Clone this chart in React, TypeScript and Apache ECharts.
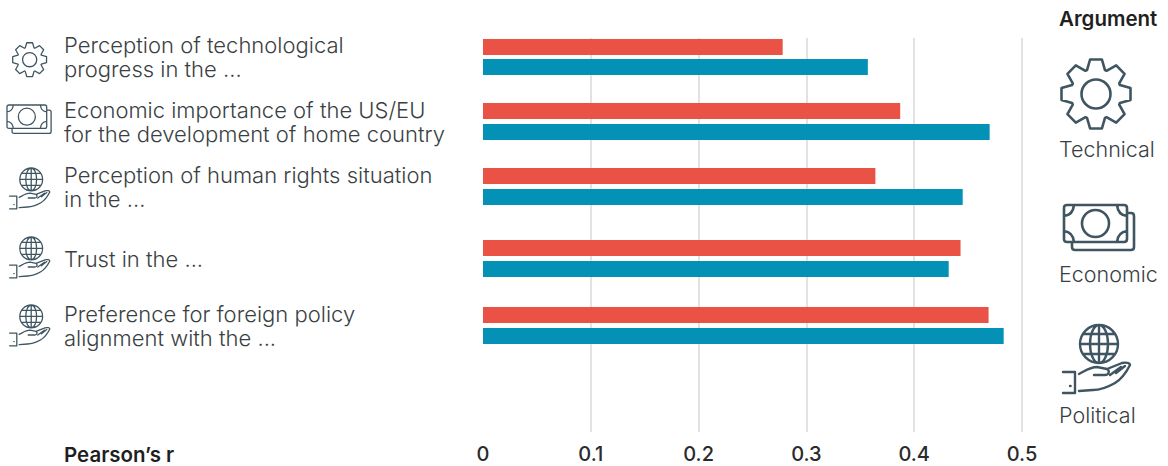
import React, { useEffect, useRef } from "react";
import * as echarts from "echarts";

const rowLabels = [
  "Perception of technological\nprogress in the ...",
  "Economic importance of the US/EU\nfor the development of home country",
  "Perception of human rights situation\nin the ...",
  "Trust in the ...",
  "Preference for foreign policy\nalignment with the ...",
];
const redValues = [0.278, 0.387, 0.364, 0.443, 0.469];
const blueValues = [0.357, 0.47, 0.445, 0.432, 0.483];
const tickLabels = ["0", "0.1", "0.2", "0.3", "0.4", "0.5"];
const rowIcons = ["gearIcon", "moneyIcon", "handIcon", "handIcon", "handIcon"];
const legendNames = ["Technical", "Economic", "Political"];

const FONT = "Inter";
const RED = "#ea5245";
const BLUE = "#0392b6";
const INK = "#3a3f44";
const ICON = "#3f5662";

function gearPath(): string {
  const cx = 36, cy = 36;
  const pts: string[] = [];
  for (let i = 0; i < 8; i++) {
    const a = (i * Math.PI) / 4 - Math.PI / 2;
    const p = (r: number, da: number) => {
      const x = cx + r * Math.cos(a + da);
      const y = cy + r * Math.sin(a + da);
      return x.toFixed(2) + "," + y.toFixed(2);
    };
    pts.push(p(25.5, -0.36), p(35, -0.17), p(35, 0.17), p(25.5, 0.36));
  }
  return "M" + pts.join(" L") + " Z M50.5,36 A14.5,14.5 0 1 1 21.5,36 A14.5,14.5 0 1 1 50.5,36 Z";
}
const moneyPath =
  "M3,0 L60,0 Q63,0 63,3 L63,34 Q63,37 60,37 L3,37 Q0,37 0,34 L0,3 Q0,0 3,0 Z " +
  "M63,8 L67,8 Q70,8 70,11 L70,42 Q70,45 67,45 L11,45 Q8,45 8,42 L8,37 " +
  "M45,18.5 A13.5,13.5 0 1 1 18,18.5 A13.5,13.5 0 1 1 45,18.5 Z " +
  "M0,11 Q9,10 10,0 M53,0 Q54,10 63,11 M0,26 Q9,27 10,37 M53,37 Q54,27 63,26";
const handPath =
  "M56,19 A19,19 0 1 1 18,19 A19,19 0 1 1 56,19 Z " +
  "M46,19 A9,19 0 1 1 28,19 A9,19 0 1 1 46,19 Z M37,0 L37,38 M18,19 L56,19 M21,9 L53,9 M21,29 L53,29 " +
  "M1,47 L13,47 L13,68 L1,68 M8,61 L8.6,61 " +
  "M17,49 C23,46 28,42 35,42 L45,44 C48,46 47,50 43,50 L32,50 " +
  "M45,44 L60,38 C64,37 68,38 68,40 C63,50 58,55 53,58 C46,62 38,65 31,65 L17,66 " +
  "M48,50 L59,42 M54,48 L63,41";

echarts.graphic.registerShape("gearIcon", echarts.graphic.extendPath(gearPath() as any, {}) as any);
echarts.graphic.registerShape("moneyIcon", echarts.graphic.extendPath(moneyPath as any, {}) as any);
echarts.graphic.registerShape("handIcon", echarts.graphic.extendPath(handPath as any, {}) as any);

const iconStyle = (lw: number) => ({ fill: "none", stroke: ICON, lineWidth: lw, lineJoin: "round", lineCap: "round" });
const rowTops = [39, 103, 168, 240, 307];
const rowHeights = [36, 37, 37, 37, 37];
const rowBarGaps = ["25%", "31.25%", "31.25%", "31.25%", "31.25%"];
const rowIconPlace = [
  { x: 12, y: 42, s: 0.49 },
  { x: 7, y: 105, s: 0.63 },
  { x: 9, y: 168, s: 0.6 },
  { x: 9, y: 237, s: 0.6 },
  { x: 9, y: 305, s: 0.6 },
];
const rowLabelNudge = [5, 1.5, 3.5, -0.5, 4];

export default function App() {
  const ref = useRef<HTMLDivElement>(null);
  useEffect(() => {
    document.body.style.margin = "0";
    const chart = echarts.init(ref.current!, undefined, { renderer: "svg" });
    const grids: any[] = [{ left: 483, top: 38, width: 539, height: 394 }];
    const xAxes: any[] = [{
      gridIndex: 0, type: "value", min: 0, max: 0.5, interval: 0.1,
      axisLine: { show: false }, axisTick: { show: false },
      splitLine: { show: true, showMinLine: false, lineStyle: { color: "#d9d9d9", width: 1.5 } },
      axisLabel: {
        margin: 12, fontFamily: FONT, fontSize: 20, fontWeight: 500, color: "#2b2b2b",
        formatter: (_: number, i: number) => tickLabels[i],
      },
    }];
    const yAxes: any[] = [{ gridIndex: 0, type: "value", show: false }];
    const series: any[] = [];
    rowLabels.forEach((label, i) => {
      const g = i + 1;
      grids.push({ left: 483, top: rowTops[i], width: 539, height: rowHeights[i] });
      xAxes.push({ gridIndex: g, type: "value", min: 0, max: 0.5, show: false });
      yAxes.push({
        gridIndex: g, type: "category", inverse: true, data: [label],
        axisLine: { show: false }, axisTick: { show: false },
        axisLabel: {
          margin: 419, align: "left", fontFamily: FONT, fontSize: 22, fontWeight: 300,
          color: INK, lineHeight: 24,
          padding: rowLabelNudge[i] >= 0 ? [rowLabelNudge[i] * 2, 0, 0, 0] : [0, 0, -rowLabelNudge[i] * 2, 0],
        },
      });
      const base = { type: "bar", xAxisIndex: g, yAxisIndex: g, barWidth: 16, barGap: rowBarGaps[i], silent: true };
      series.push({ ...base, name: "Red", data: [redValues[i]], itemStyle: { color: RED } });
      series.push({ ...base, name: "Blue", data: [blueValues[i]], itemStyle: { color: BLUE } });
    });
    const txt = (text: string, x: number, y: number, size: number, weight: number, fill = INK) => ({
      type: "text", x, y, style: { text, fontFamily: FONT, fontSize: size, fontWeight: weight, fill, verticalAlign: "middle" },
    });
    const graphic: any[] = [
      txt("Pearson\u2019s r", 64, 454, 20.5, 600, "#1f1f1f"),
      txt("Argument", 1059, 18, 20.5, 600, "#1f1f1f"),
      txt(legendNames[0], 1059, 149, 21.5, 300),
      txt(legendNames[1], 1059, 274, 21.5, 300),
      txt(legendNames[2], 1059, 415, 21.5, 300),
      { type: "gearIcon", x: 1060, y: 58, scaleX: 1, scaleY: 1, style: iconStyle(2.6) },
      { type: "moneyIcon", x: 1064, y: 205, scaleX: 1, scaleY: 1, style: iconStyle(2.6) },
      { type: "handIcon", x: 1062, y: 325, scaleX: 1, scaleY: 1, style: iconStyle(2.4) },
    ];
    rowIcons.forEach((t, i) => {
      const p = rowIconPlace[i];
      graphic.push({ type: t, x: p.x, y: p.y, scaleX: p.s, scaleY: p.s, style: iconStyle(1.3 / p.s) });
    });
    chart.setOption({ animation: false, grid: grids, xAxis: xAxes, yAxis: yAxes, series, graphic });
    return () => chart.dispose();
  }, []);
  return <div ref={ref} style={{ width: 1168, height: 466 }} />;
}
